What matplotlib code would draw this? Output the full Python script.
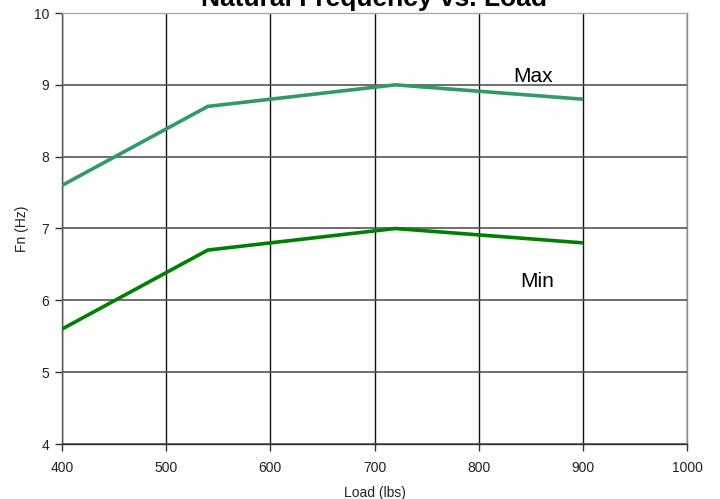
import matplotlib
matplotlib.use("Agg")
import matplotlib.pyplot as plt

load = [400, 540, 720, 900]
fn_max = [7.6, 8.7, 9.0, 8.8]
fn_min = [5.6, 6.7, 7.0, 6.8]
x_ticks = [400, 500, 600, 700, 800, 900, 1000]
y_ticks = [4, 5, 6, 7, 8, 9, 10]

plt.rcParams['font.family'] = ['Liberation Sans', 'DejaVu Sans']

fig = plt.figure(figsize=(7.2, 4.99), dpi=100)
ax = fig.add_axes([62/720, 1-444/499, (687-62)/720, (444-13)/499])

ax.plot(load, fn_max, color='#339966', lw=2.6, solid_capstyle='butt', zorder=3)
ax.plot(load, fn_min, color='#008000', lw=2.6, solid_capstyle='butt', zorder=3)

ax.set_xlim(400, 1000)
ax.set_ylim(4, 10)
ax.set_xticks(x_ticks)
ax.set_yticks(y_ticks)
ax.tick_params(axis='both', direction='out', length=5, width=1, colors='#333333',
               labelsize=10, labelcolor='#222222')
ax.tick_params(axis='x', pad=7)
ax.tick_params(axis='y', pad=4)

ax.xaxis.grid(True, color='#111111', lw=1)
ax.yaxis.grid(True, color='#555555', lw=1.2)
ax.set_axisbelow(True)

ax.spines['left'].set_color('#555555')
ax.spines['bottom'].set_color('#333333')
ax.spines['top'].set_color('#aaaaaa')
ax.spines['right'].set_color('#888888')
for s in ax.spines.values():
    s.set_linewidth(1)

ax.set_xlabel('Load (lbs)', fontsize=10, color='#222222', labelpad=8)
ax.set_ylabel('Fn (Hz)', fontsize=10, color='#222222', labelpad=4)

ax.text(852, 9.11, 'Max', fontsize=15, ha='center', va='center', color='black')
ax.text(856, 6.26, 'Min', fontsize=15, ha='center', va='center', color='black')

fig.text(374/720, 1-6/499, 'Natural Frequency vs. Load', fontsize=19, fontweight='bold',
         ha='center', va='baseline', color='black')

fig.savefig('out.png', dpi=100)
